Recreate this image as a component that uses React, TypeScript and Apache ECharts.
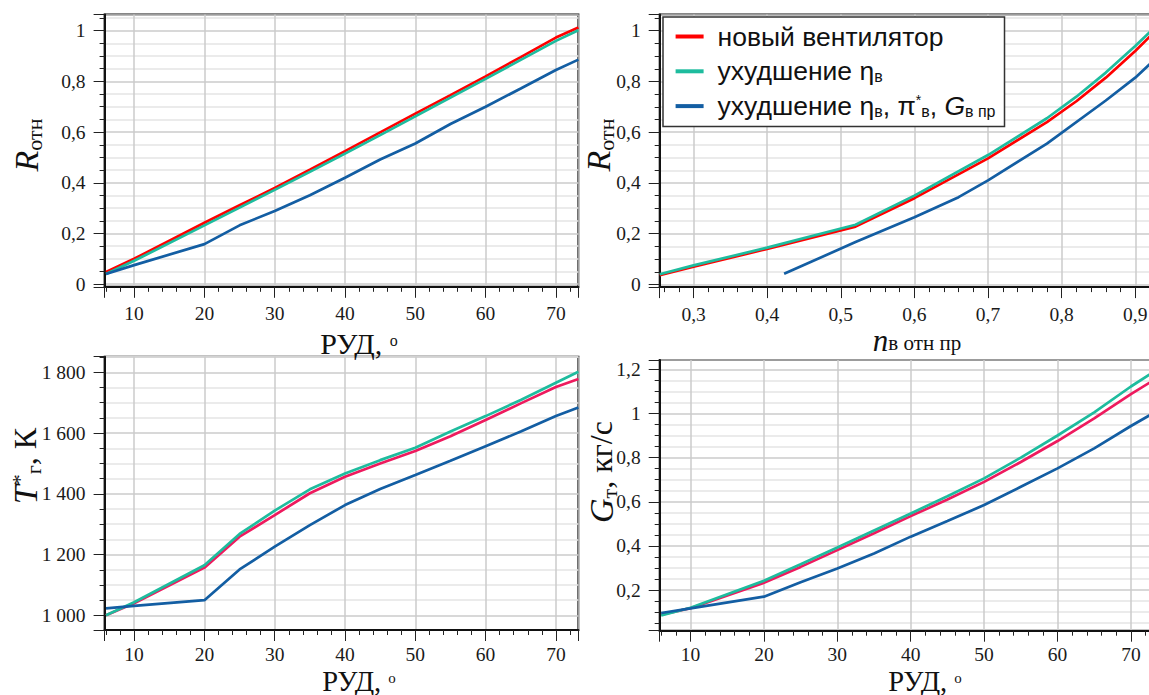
import React, { useEffect, useRef } from "react";
import * as echarts from "echarts";

// ---------- data ----------
const NAME_NEW = "новый вентилятор";
const NAME_ETA = "ухудшение ηв";
const NAME_ALL = "ухудшение ηв, π*в, Gв пр";

// Panel 1: R_отн vs РУД
const rud = [6, 10, 20, 25, 30, 35, 40, 45, 50, 55, 60, 65, 70, 73.2];
const rNew = [0.048, 0.1, 0.242, 0.311, 0.38, 0.452, 0.525, 0.599, 0.673, 0.746, 0.82, 0.896, 0.973, 1.013];
const rEta = [0.04, 0.092, 0.232, 0.302, 0.372, 0.443, 0.515, 0.588, 0.662, 0.736, 0.81, 0.885, 0.96, 1.002];
const rAll = [0.04, 0.075, 0.158, 0.232, 0.289, 0.351, 0.42, 0.492, 0.555, 0.632, 0.7, 0.772, 0.845, 0.886];

// Panel 2: R_отн vs n_в отн пр
const nNewX = [0.254, 0.3, 0.4, 0.52, 0.6, 0.7, 0.78, 0.82, 0.86, 0.9, 0.926];
const nNew = [0.036, 0.07, 0.14, 0.228, 0.34, 0.497, 0.64, 0.722, 0.815, 0.92, 0.995];
const nEta = [0.04, 0.075, 0.145, 0.235, 0.35, 0.51, 0.655, 0.74, 0.835, 0.94, 1.012];
const nAllX = [0.423, 0.52, 0.6, 0.66, 0.7, 0.78, 0.86, 0.9, 0.926];
const nAll = [0.042, 0.167, 0.265, 0.344, 0.41, 0.555, 0.725, 0.815, 0.885];

// Panel 3: T*г vs РУД
const tNew = [1000, 1040, 1157, 1259, 1330, 1402, 1456, 1500, 1541, 1590, 1643, 1698, 1752, 1778];
const tEta = [1000, 1043, 1165, 1268, 1345, 1415, 1467, 1511, 1552, 1605, 1656, 1709, 1766, 1802];
const tAll = [1023, 1031, 1050, 1151, 1226, 1297, 1363, 1416, 1462, 1509, 1557, 1605, 1656, 1684];

// Panel 4: Gт vs РУД
const gNew = [0.088, 0.118, 0.233, 0.305, 0.381, 0.457, 0.535, 0.61, 0.69, 0.78, 0.875, 0.978, 1.087, 1.153];
const gEta = [0.085, 0.12, 0.242, 0.317, 0.393, 0.47, 0.547, 0.625, 0.706, 0.8, 0.9, 1.005, 1.122, 1.19];
const gAll = [0.096, 0.117, 0.17, 0.235, 0.298, 0.366, 0.442, 0.513, 0.585, 0.668, 0.751, 0.842, 0.943, 1.004];

// ---------- styles ----------
const RED = "#ff0000";
const RED2 = "#ee1a5e";
const TEAL = "#1ebc9e";
const BLUE = "#135ea3";
const SERIF = "Liberation Serif";
const SANS = "Liberation Sans";

const pairs = (xs: number[], ys: number[]) => xs.map((x, i) => [x, ys[i]]);

const isMult = (v: number, step: number) => Math.abs(v / step - Math.round(v / step)) < 1e-6;
const fmtDec = (step: number) => (v: number) =>
  isMult(v, step) ? String(Math.round(v * 100) / 100).replace(".", ",") : "";
const fmtThousands = (step: number) => (v: number) => {
  if (!isMult(v, step)) return "";
  const s = String(Math.round(v));
  return s.replace(/\B(?=(\d{3})+(?!\d))/g, " ");
};

const grids = [
  { left: 104.6, top: 14.5, width: 473.8, height: 272.3 },
  { left: 659.7, top: 14.5, width: 494.7, height: 272.6 },
  { left: 104.6, top: 356.7, width: 473.8, height: 273.3 },
  { left: 659.7, top: 360, width: 494.7, height: 270.7 },
];

const tickStyle = { color: "#222", width: 1 };

function makeAxis(
  i: number, min: number, max: number, step: number, minorSplit: number, fmt: any, isY: boolean, margin: number
) {
  return {
    type: "value",
    gridIndex: i,
    min,
    max,
    minInterval: step,
    maxInterval: step,
    splitNumber: Math.round((max - min) / step),
    axisLine: { show: true, onZero: false, lineStyle: { color: "#111", width: 2 } },
    axisTick: { show: true, length: 11, lineStyle: tickStyle },
    minorTick: { show: true, splitNumber: minorSplit, length: 5, lineStyle: tickStyle },
    splitLine: { show: true, lineStyle: { color: "#cbcbcb", width: 1.5 } },
    minorSplitLine: { show: isY, lineStyle: { color: "#e4e4e4", width: 1.5 } },
    axisLabel: {
      formatter: fmt,
      margin,
      fontFamily: SERIF,
      fontSize: 19.5,
      color: "#1a1a1a",
    },
  };
}

const C = "#111";
const yRich = {
  m: { fontFamily: SERIF, fontSize: 32, lineHeight: 38, fill: C, color: C },
  i: { fontFamily: SERIF, fontStyle: "italic", fontSize: 34, lineHeight: 38, fill: C, color: C },
  s: { fontFamily: SERIF, fontSize: 22, verticalAlign: "bottom", fill: C, color: C },
  a: { fontFamily: SERIF, fontSize: 22, verticalAlign: "top", padding: [2, 0, 0, 0], fill: C, color: C },
};
const xRich = {
  m: { fontFamily: SERIF, fontSize: 30, lineHeight: 26, fill: C, color: C },
  i: { fontFamily: SERIF, fontStyle: "italic", fontSize: 31, lineHeight: 26, fill: C, color: C },
  s: { fontFamily: SERIF, fontSize: 21, verticalAlign: "bottom", padding: [4, 0, 0, 0], fill: C, color: C },
  p: { fontFamily: SERIF, fontSize: 16, verticalAlign: "top", padding: [2, 0, 0, 0], fill: C, color: C },
};
const xRichLow = {
  ...xRich,
  m: { fontFamily: SERIF, fontSize: 28.5, lineHeight: 26, fill: C, color: C },
  p: { fontFamily: SERIF, fontSize: 15, verticalAlign: "top", padding: [2, 0, 0, 0], fill: C, color: C },
};

function nameText(x: number, y: number, text: string, rich: any, rotated: boolean) {
  return {
    type: "text",
    x,
    y,
    rotation: rotated ? Math.PI / 2 : 0,
    z: 10,
    style: { text, rich, align: "center", verticalAlign: "middle", fill: C },
  };
}

const legendText: Record<string, string> = {
  [NAME_NEW]: "{m|новый вентилятор}",
  [NAME_ETA]: "{m|ухудшение η}{s|в}",
  [NAME_ALL]: "{m|ухудшение η}{s|в}{m|, π}{p|*}{s|в}{m|, }{g|G}{s|в пр}",
};

function line(name: string, gi: number, data: number[][], color: string) {
  return {
    type: "line",
    name,
    xAxisIndex: gi,
    yAxisIndex: gi,
    data,
    symbol: "none",
    showSymbol: false,
    color,
    itemStyle: { color },
    lineStyle: { color, width: 2.7 },
    silent: true,
  };
}

export default function App() {
  const ref = useRef<HTMLDivElement>(null);
  useEffect(() => {
    document.body.style.margin = "0";
    const chart = echarts.init(ref.current as HTMLDivElement, null, { renderer: "svg" });
    const option: any = {
      animation: false,
      backgroundColor: "#fff",
      textStyle: { fontFamily: SERIF },
      grid: grids.map((g) => ({
        ...g,
        show: true,
        borderColor: "#111",
        borderWidth: 2,
        containLabel: false,
        outerBoundsMode: "none",
      })),
      xAxis: [
        makeAxis(0, 5.8, 73.2, 10, 5, fmtDec(10), false, 17),
        makeAxis(1, 0.254, 0.926, 0.1, 5, fmtDec(0.1), false, 17),
        makeAxis(2, 5.8, 73.2, 10, 5, fmtDec(10), false, 14),
        makeAxis(3, 5.8, 73.2, 10, 5, fmtDec(10), false, 14),
      ],
      yAxis: [
        makeAxis(0, -0.0105, 1.064, 0.2, 4, fmtDec(0.2), true, 19),
        makeAxis(1, -0.0105, 1.064, 0.2, 4, fmtDec(0.2), true, 19),
        makeAxis(2, 951.7, 1851.6, 200, 4, fmtThousands(200), true, 19),
        makeAxis(3, 0.016, 1.242, 0.2, 4, fmtDec(0.2), true, 19),
      ],
      legend: {
        data: [NAME_NEW, NAME_ETA, NAME_ALL],
        orient: "vertical",
        left: 663,
        top: 17,
        backgroundColor: "#fff",
        borderColor: "#333",
        borderWidth: 1.5,
        padding: [6, 9, 7, 12.6],
        itemGap: 7.8,
        itemWidth: 28,
        itemHeight: 4,
        icon: "rect",
        selectedMode: false,
        formatter: (n: string) => legendText[n] || n,
        textStyle: {
          fontFamily: SANS,
          fontSize: 26.5,
          color: "#111",
          padding: [0, 0, 0, 9],
          rich: {
            m: { fontFamily: SANS, fontSize: 26.5, color: "#111" },
            s: { fontFamily: SANS, fontSize: 16, verticalAlign: "bottom", color: "#111" },
            p: { fontFamily: SANS, fontSize: 14, verticalAlign: "top", color: "#111" },
            g: { fontFamily: SANS, fontSize: 26.5, fontStyle: "italic", color: "#111" },
          },
        },
      },
      graphic: [
        nameText(26, 145, "{i|R}{s|отн}", yRich, true),
        nameText(598, 145, "{i|R}{s|отн}", yRich, true),
        nameText(25, 466, "{i|T}{a|*}{s|г}{m|, К}", yRich, true),
        nameText(601, 472, "{i|G}{s|т}{m|, кг/с}", yRich, true),
        nameText(359, 343, "{m|РУД, }{p|o}", xRich, false),
        nameText(917, 340, "{i|n}{s|в отн пр}", xRich, false),
        nameText(359, 681, "{m|РУД, }{p|o}", xRichLow, false),
        nameText(925, 681, "{m|РУД, }{p|o}", xRichLow, false),
      ],
      series: [
        line(NAME_NEW, 0, pairs(rud, rNew), RED),
        line(NAME_ETA, 0, pairs(rud, rEta), TEAL),
        line(NAME_ALL, 0, pairs(rud, rAll), BLUE),
        line(NAME_NEW, 1, pairs(nNewX, nNew), RED),
        line(NAME_ETA, 1, pairs(nNewX, nEta), TEAL),
        line(NAME_ALL, 1, pairs(nAllX, nAll), BLUE),
        line(NAME_NEW, 2, pairs(rud, tNew), RED2),
        line(NAME_ETA, 2, pairs(rud, tEta), TEAL),
        line(NAME_ALL, 2, pairs(rud, tAll), BLUE),
        line(NAME_NEW, 3, pairs(rud, gNew), RED2),
        line(NAME_ETA, 3, pairs(rud, gEta), TEAL),
        line(NAME_ALL, 3, pairs(rud, gAll), BLUE),
      ],
    };
    chart.setOption(option);
    return () => chart.dispose();
  }, []);
  return <div ref={ref} style={{ width: 1149, height: 695 }} />;
}
